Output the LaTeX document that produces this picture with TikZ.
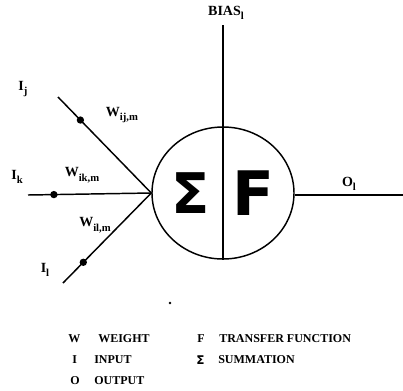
\documentclass[tikz,border=0pt]{standalone}
\usepackage{fontspec}
\setmainfont{Liberation Serif}
\newfontfamily\symfont{DejaVu Sans}
\usetikzlibrary{shapes.geometric}
\newcommand\lowsub[1]{\raisebox{-0.7ex}{\fontsize{8}{9}\selectfont #1}}
\tikzset{
  line/.style={line width=1.1pt},
  lbl/.style={font=\bfseries\fontsize{10.5}{12}\selectfont, inner sep=0pt},
  leg/.style={font=\bfseries\fontsize{9}{10}\selectfont, inner sep=0pt, anchor=west},
  wdot/.style={circle, fill=black, inner sep=0pt, minimum size=5.5pt},
}
\begin{document}
\begin{tikzpicture}[x=0.75pt,y=-0.75pt]
\useasboundingbox (0,0) rectangle (403,390);
% neuron body
\node[ellipse, draw, line width=1.1pt, minimum width=106.5pt, minimum height=99pt, inner sep=0pt] (n) at (223,193) {};
\coordinate (bias) at (223,25);
\coordinate (out) at (403,195);
\coordinate (ij) at (58,97);
\coordinate (ik) at (28,195);
\coordinate (il) at (63,283);
\draw[line] (bias) -- (n.south);
\draw[line] (n.east |- out) -- (out);
\draw[line] (ij) -- (n.west) node[wdot, pos=0.24] (dj) {};
\draw[line] (ik) -- (n.west) node[wdot, pos=0.21] (dk) {};
\draw[line] (il) -- (n.west) node[wdot, pos=0.23] (dl) {};
% symbols
\node[font=\symfont\bfseries\fontsize{42}{42}\selectfont, inner sep=0pt] (sig) at (191,193) {Σ};
\node[font=\symfont\bfseries\fontsize{46}{46}\selectfont, inner sep=0pt] (ff) at (253,193) {F};
% labels
\node[lbl] (tb) at (226,13) {BIAS\lowsub{l}};
\node[lbl] (tij) at (23,89) {I\lowsub{j}};
\node[lbl] (twj) at (122,115) {W\lowsub{ij,m}};
\node[lbl] (tik) at (17,177) {I\lowsub{k}};
\node[lbl] (twk) at (82,175) {W\lowsub{ik,m}};
\node[lbl] (twl) at (95,225) {W\lowsub{il,m}};
\node[lbl] (til) at (45,270) {I\lowsub{l}};
\node[lbl] (to) at (349,184) {O\lowsub{l}};
\fill (170,303) circle (1pt);
% legend
\node[leg] (l1) at (68,339) {W};
\node[leg] (l1t) at (98,339) {WEIGHT};
\node[leg] (l2) at (72,360) {I};
\node[leg] (l2t) at (94,360) {INPUT};
\node[leg] (l3) at (70,381) {O};
\node[leg] (l3t) at (94,381) {OUTPUT};
\node[leg] (l4) at (197,339) {F};
\node[leg] (l4t) at (219,339) {TRANSFER FUNCTION};
\node[leg, font=\symfont\bfseries\fontsize{9}{10}\selectfont] (l5) at (196,360) {Σ};
\node[leg] (l5t) at (218,360) {SUMMATION};
\end{tikzpicture}
\end{document}
